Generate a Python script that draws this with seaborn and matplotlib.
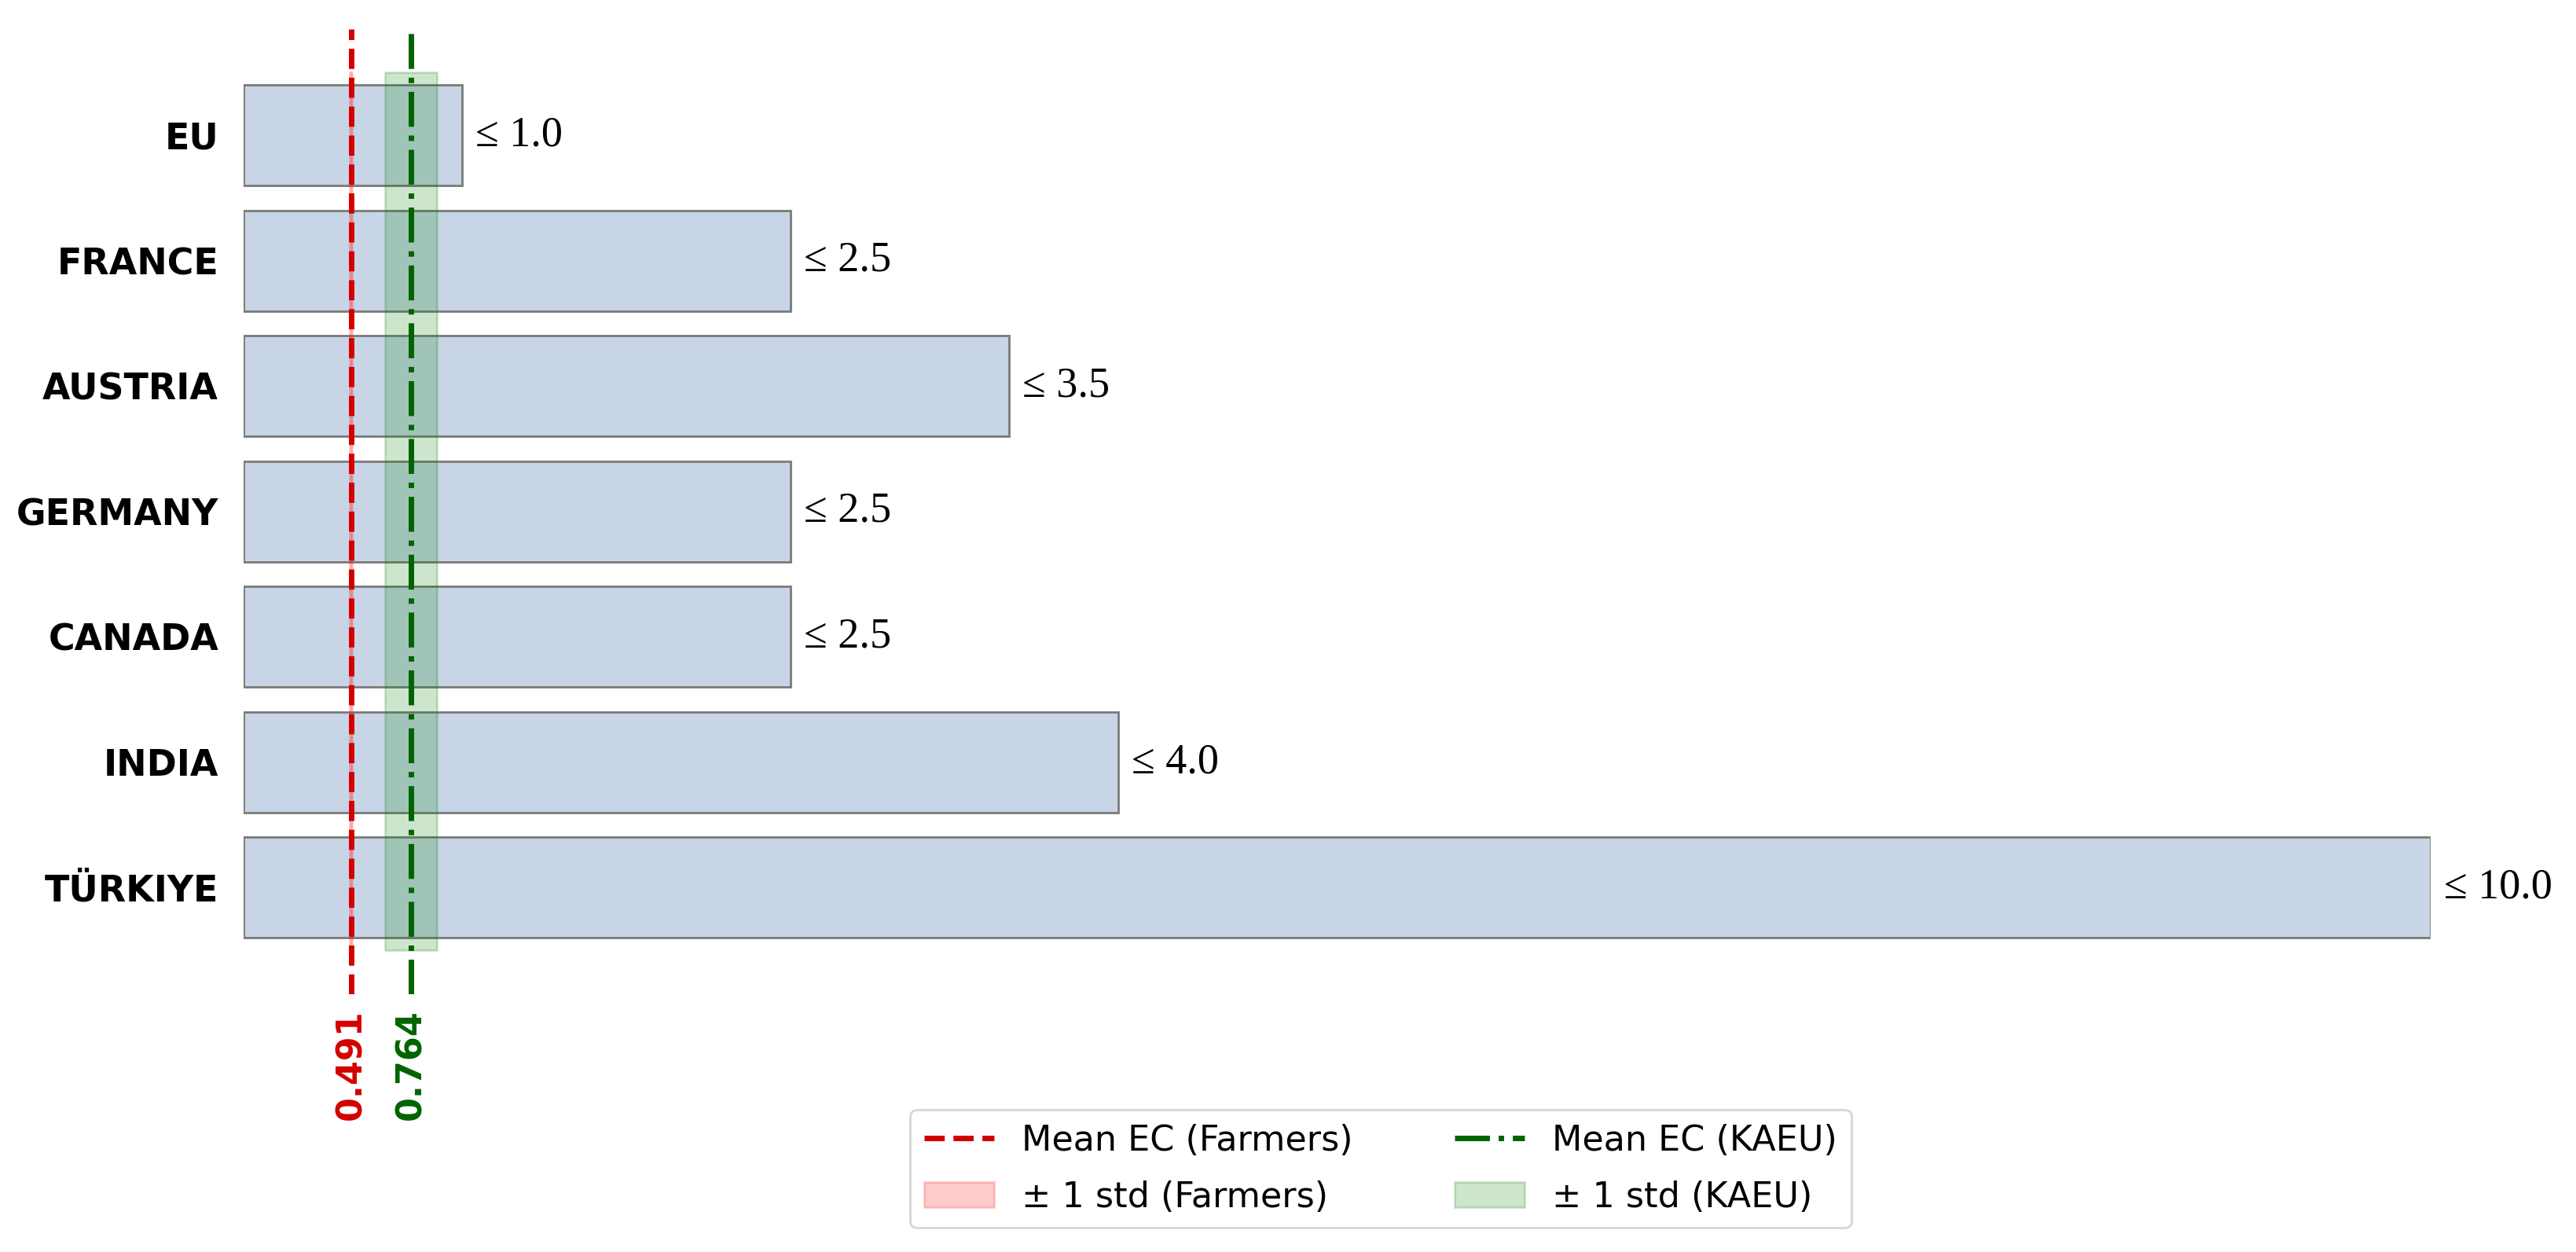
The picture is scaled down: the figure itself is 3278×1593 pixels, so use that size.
# -*- coding: utf-8 -*-
import numpy as np
import pandas as pd
import matplotlib.pyplot as plt
import matplotlib.transforms as mtransforms
from matplotlib.lines import Line2D
from matplotlib.patches import Patch
import seaborn as sns

# %% data
countries = ['EU', 'FRANCE', 'AUSTRIA', 'GERMANY', 'CANADA', 'INDIA', 'TÜRKIYE']
limits = [1.0, 2.5, 3.5, 2.5, 2.5, 4.0, 10.0]
mean_farmers = 0.491
std_farmers = 0.005
mean_kaeu = 0.764
std_kaeu = 0.119

df = pd.DataFrame({'country': countries, 'limit': limits})

# %% plot
sns.set_style('white')
plt.rcParams['font.family'] = ['DejaVu Sans']
plt.rcParams['text.color'] = 'black'
plt.rcParams['ytick.color'] = 'black'

fig = plt.figure(figsize=(16.39, 7.965), dpi=200)
ax = fig.add_axes([0.0946, 0.206, 0.849, 0.771])

sns.barplot(data=df, x='limit', y='country', orient='h', ax=ax,
            color='#c8d5e6', saturation=1, edgecolor='#7a7a7a',
            linewidth=1.0, width=0.8)

# std bands (drawn over the bars)
ax.fill_betweenx([-0.5, len(countries) - 0.5],
                 mean_farmers - std_farmers, mean_farmers + std_farmers,
                 color='red', alpha=0.2, zorder=3)
ax.fill_betweenx([-0.5, len(countries) - 0.5],
                 mean_kaeu - std_kaeu, mean_kaeu + std_kaeu,
                 color='green', alpha=0.2, zorder=3)

ax.axvline(mean_farmers, color='#d40000', linestyle='--', linewidth=2.5, zorder=4)
ax.axvline(mean_kaeu, color='darkgreen', linestyle='-.', linewidth=2.5, zorder=4)

ax.set_xlim(0, 10)
ax.set_ylim(len(countries) - 0.15, -0.85)

# value labels at bar ends
for i, v in enumerate(limits):
    ax.text(v + 0.06, i, '≤ {:.1f}'.format(v), va='center', ha='left',
            fontsize=19.5, color='black',
            family=['Liberation Serif', 'DejaVu Serif'])

# mean values below the lines
trans = mtransforms.blended_transform_factory(ax.transData, ax.transAxes)
ax.text(mean_farmers, -0.016, '{:.3f}'.format(mean_farmers), transform=trans,
        rotation=90, ha='center', va='top', color='#d40000',
        fontsize=16, fontweight='bold')
ax.text(mean_kaeu, -0.016, '{:.3f}'.format(mean_kaeu), transform=trans,
        rotation=90, ha='center', va='top', color='darkgreen',
        fontsize=16, fontweight='bold')

ax.set_xlabel('')
ax.set_ylabel('')
ax.set_xticks([])
ax.tick_params(axis='y', length=0, pad=11.5, labelcolor='black')
for lab in ax.get_yticklabels():
    lab.set_fontweight('bold')
    lab.set_fontsize(16.5)
sns.despine(ax=ax, left=True, bottom=True)

handles = [Line2D([0], [0], color='#d40000', linestyle='--', linewidth=2.5),
           Patch(facecolor='red', edgecolor='red', alpha=0.2),
           Line2D([0], [0], color='darkgreen', linestyle='-.', linewidth=2.5),
           Patch(facecolor='green', edgecolor='green', alpha=0.2)]
labels = ['Mean EC (Farmers)', '± 1 std (Farmers)',
          'Mean EC (KAEU)', '± 1 std (KAEU)']
leg = fig.legend(handles, labels, ncol=2, loc='center',
                 bbox_to_anchor=(0.536, 0.0665), fontsize=16, frameon=True,
                 columnspacing=2.9, labelspacing=0.65)
for t in leg.get_texts():
    t.set_color('black')

plt.savefig('out.png', dpi=200)
